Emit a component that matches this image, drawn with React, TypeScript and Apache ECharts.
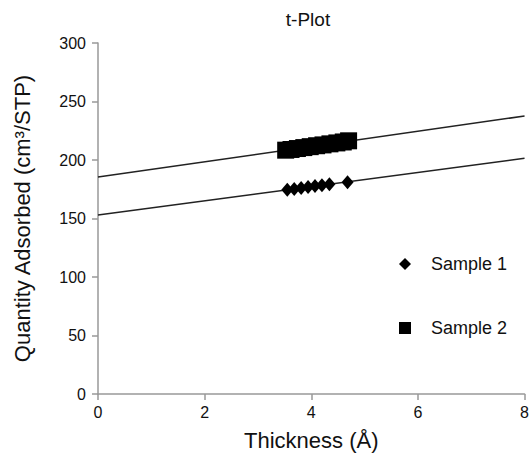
import React, { useEffect, useRef } from "react";
import * as echarts from "echarts";

const xTicks = [0, 2, 4, 6, 8];
const sample1X = [3.55, 3.68, 3.81, 3.94, 4.07, 4.2, 4.34, 4.68];
const sample1Y = [174.5, 175.3, 176.1, 176.9, 177.7, 178.5, 179.3, 181.0];
const sample2X = [3.52, 3.62, 3.74, 3.86, 3.98, 4.1, 4.22, 4.35, 4.48, 4.6, 4.7];
const sample2Y = [208.4, 209.0, 209.8, 210.6, 211.4, 212.2, 212.9, 213.8, 214.6, 215.4, 216.4];
const fit1X = [0, 8];
const fit1Y = [153, 201.5];
const fit2X = [0, 8];
const fit2Y = [185.5, 237.6];

const FONT = "Liberation Sans, Arial, sans-serif";

export default function App() {
  const ref = useRef<HTMLDivElement>(null);
  useEffect(() => {
    if (!ref.current) return;
    const chart = echarts.init(ref.current, undefined, { renderer: "svg" });
    const zip = (xs: number[], ys: number[]) => xs.map((x, i) => [x, ys[i]]);
    chart.setOption({
      animation: false,
      backgroundColor: "#fff",
      textStyle: { fontFamily: FONT },
      title: {
        text: "t-Plot",
        left: 308,
        top: 10,
        padding: 0,
        textAlign: "center",
        textStyle: { fontSize: 19, fontWeight: "normal", color: "#111", fontFamily: FONT },
      },
      legend: {
        orient: "vertical",
        left: 394,
        top: 250,
        itemGap: 46,
        itemWidth: 12,
        itemHeight: 12,
        data: [
          { name: "Sample 1", icon: "diamond" },
          { name: "Sample 2", icon: "rect" },
        ],
        textStyle: { fontSize: 18, color: "#111", fontFamily: FONT, padding: [0, 0, 0, 15] },
      },
      grid: { left: 98, right: 4, top: 43, bottom: 65, containLabel: false },
      xAxis: {
        type: "value",
        min: 0,
        max: 8,
        interval: 2,
        name: "Thickness (Å)",
        nameLocation: "middle",
        nameGap: 35,
        nameTextStyle: { fontSize: 22, color: "#111", fontFamily: FONT },
        axisLine: { show: true, onZero: false, lineStyle: { color: "#999", width: 1.5 } },
        axisTick: { show: true, length: 6, lineStyle: { color: "#999", width: 1.5 } },
        axisLabel: {
          fontSize: 16,
          color: "#111",
          margin: 10,
          formatter: (v: number) => (xTicks.includes(v) ? String(v) : ""),
        },
        splitLine: { show: false },
      },
      yAxis: {
        type: "value",
        min: 0,
        max: 300,
        interval: 50,
        name: "Quantity Adsorbed (cm³/STP)",
        nameLocation: "middle",
        nameGap: 65,
        nameTextStyle: { fontSize: 22, color: "#111", fontFamily: FONT },
        axisLine: { show: true, onZero: false, lineStyle: { color: "#999", width: 1.5 } },
        axisTick: { show: true, length: 6, lineStyle: { color: "#999", width: 1.5 } },
        axisLabel: { fontSize: 16, color: "#111", margin: 12 },
        splitLine: { show: false },
      },
      series: [
        {
          type: "line",
          data: zip(fit1X, fit1Y),
          showSymbol: false,
          symbol: "none",
          lineStyle: { color: "#222", width: 1.5 },
          silent: true,
          z: 1,
        },
        {
          type: "line",
          data: zip(fit2X, fit2Y),
          showSymbol: false,
          symbol: "none",
          lineStyle: { color: "#222", width: 1.5 },
          silent: true,
          z: 1,
        },
        {
          name: "Sample 1",
          type: "scatter",
          symbol: "diamond",
          symbolSize: [12, 14],
          itemStyle: { color: "#000", opacity: 1 },
          data: zip(sample1X, sample1Y),
          z: 3,
        },
        {
          name: "Sample 2",
          type: "scatter",
          symbol: "rect",
          symbolSize: 17,
          itemStyle: { color: "#000", opacity: 1 },
          data: zip(sample2X, sample2Y),
          z: 3,
        },
      ],
    });
    return () => chart.dispose();
  }, []);
  return <div ref={ref} style={{ width: 532, height: 459, position: "absolute", left: 0, top: 0 }} />;
}
